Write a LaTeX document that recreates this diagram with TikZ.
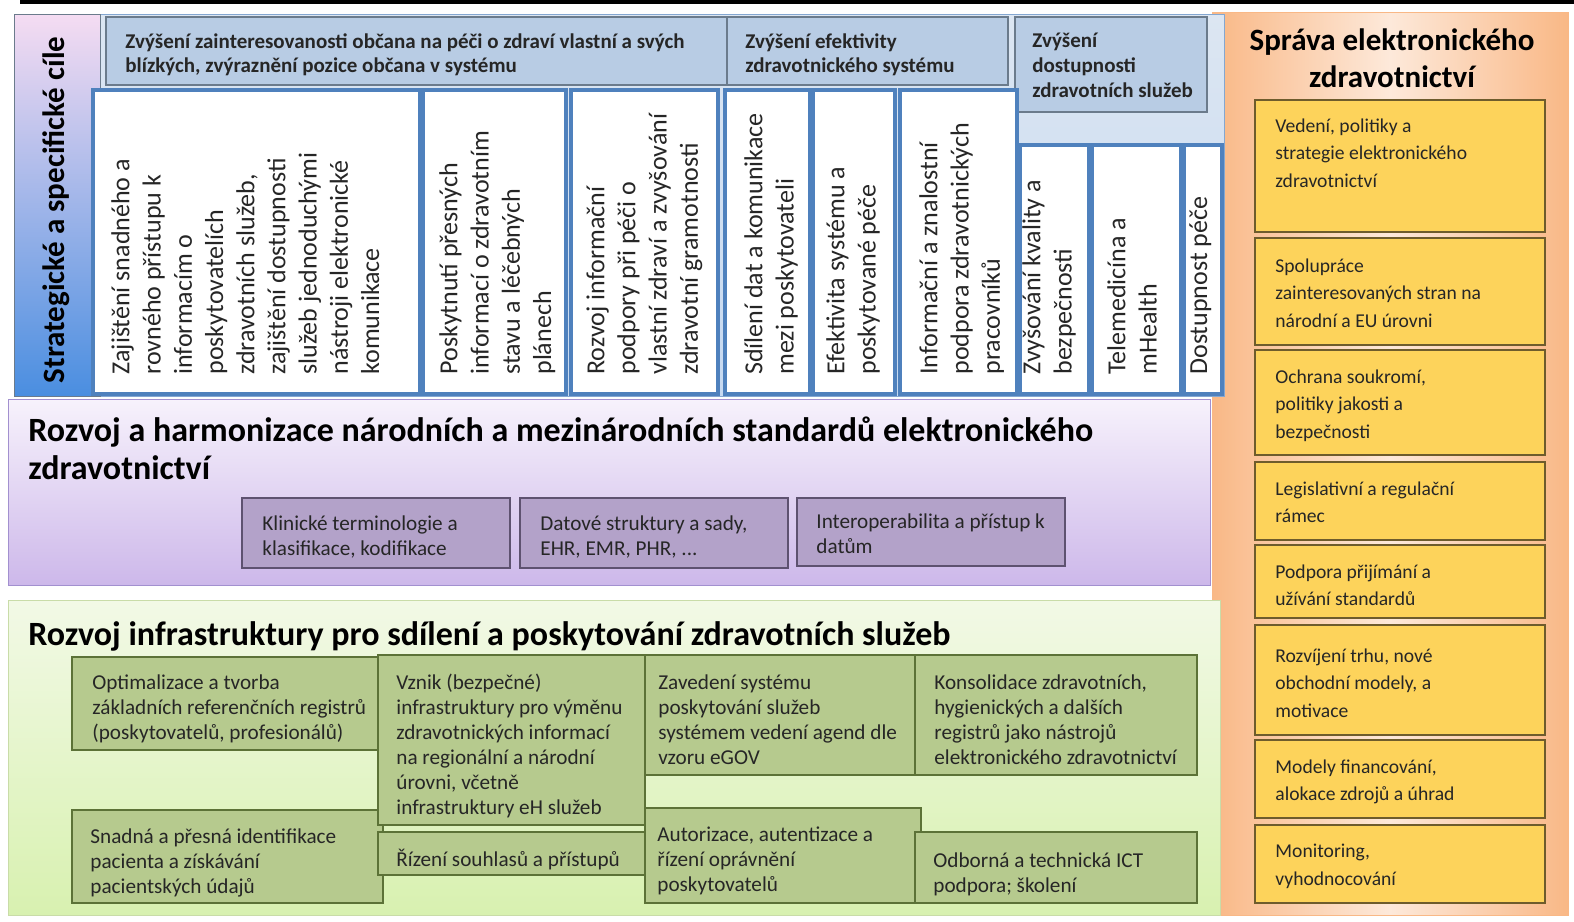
\documentclass[tikz,border=0pt]{standalone}
\usepackage{fontspec}
\setmainfont{Carlito}
\usepackage{tikz}
\definecolor{hdrblue}{HTML}{B8CCE4}
\definecolor{hdrline}{HTML}{6B7B8C}
\definecolor{colline}{HTML}{4F81BD}
\definecolor{bgblue}{HTML}{C6D9F1}
\definecolor{bgblue2}{HTML}{DCE6F2}
\definecolor{lblpink}{HTML}{F5DCF2}
\definecolor{lblblue}{HTML}{4A8EE0}
\definecolor{purtop}{HTML}{F7F2FC}
\definecolor{purbot}{HTML}{CDB8EA}
\definecolor{purline}{HTML}{A290CF}
\definecolor{purbox}{HTML}{B3A2C9}
\definecolor{purboxline}{HTML}{5E5270}
\definecolor{grntop}{HTML}{F2F9E6}
\definecolor{grnbot}{HTML}{D8F1B0}
\definecolor{grnline}{HTML}{C9DCA8}
\definecolor{grnbox}{HTML}{B6CA8E}
\definecolor{grnboxline}{HTML}{5C7237}
\definecolor{orgedge}{HTML}{F9B886}
\definecolor{orgmid}{HTML}{FDE9DA}
\definecolor{yelbox}{HTML}{FDD35B}
\definecolor{yelline}{HTML}{6E5C2C}
\definecolor{txt}{HTML}{262626}
\tikzset{
  hdr/.style = {fill=hdrblue, draw=hdrline, line width=0.8pt},
  col/.style = {fill=white, draw=colline, line width=1.8pt},
  pbox/.style = {fill=purbox, draw=purboxline, line width=0.8pt},
  gbox/.style = {fill=grnbox, draw=grnboxline, line width=0.9pt},
  ybox/.style = {fill=yelbox, draw=yelline, line width=0.9pt},
  hdrtxt/.style = {anchor=north west, align=left, inner sep=0pt, text=txt, font=\bfseries\fontsize{10.5}{12.3}\selectfont},
  coltxt/.style = {anchor=north west, rotate=90, align=left, inner sep=0pt, text=txt, font=\fontsize{13}{15.6}\selectfont},
  boxtxt/.style = {anchor=north west, align=left, inner sep=0pt, text=txt, font=\fontsize{10.6}{12.5}\selectfont},
  ytxt/.style = {boxtxt, font=\fontsize{9.8}{13.8}\selectfont},
  bandtitle/.style = {anchor=north west, align=left, inner sep=0pt, font=\bfseries\fontsize{17}{19}\selectfont},
}
\begin{document}
\begin{tikzpicture}[x=0.5pt, y=-0.5pt]
\useasboundingbox (0,0) rectangle (1574,921);
\fill[black] (20,0) rectangle (1574,4);

\shade[left color=orgedge, right color=orgedge, middle color=orgmid, draw=orgedge] (1212,12) rectangle (1568,915);
\node[anchor=north, align=center, inner sep=0pt, font=\bfseries\fontsize{15.5}{18.5}\selectfont] (sprava) at (1392,28) {Správa elektronického\\zdravotnictví};
\draw[ybox] (1255,100) rectangle (1545,232);
\draw[ybox] (1255,238) rectangle (1545,345);
\draw[ybox] (1255,350) rectangle (1545,455);
\draw[ybox] (1255,462) rectangle (1545,540);
\draw[ybox] (1255,545) rectangle (1545,618);
\draw[ybox] (1255,625) rectangle (1545,735);
\draw[ybox] (1255,740) rectangle (1545,818);
\draw[ybox] (1255,825) rectangle (1545,903);
\node[ytxt] (vedeni) at (1275,118) {Vedení, politiky a\\strategie elektronického\\zdravotnictví};
\node[ytxt] (spoluprace) at (1275,258) {Spolupráce\\zainteresovaných stran na\\národní a EU úrovni};
\node[ytxt] (ochrana) at (1275,369) {Ochrana soukromí,\\politiky jakosti a\\bezpečnosti};
\node[ytxt] (legislativa) at (1275,481) {Legislativní a regulační\\rámec};
\node[ytxt] (podpora) at (1275,564) {Podpora přijímání a\\užívání standardů};
\node[ytxt] (trh) at (1275,648) {Rozvíjení trhu, nové\\obchodní modely, a\\motivace};
\node[ytxt] (financovani) at (1275,759) {Modely financování,\\alokace zdrojů a úhrad};
\node[ytxt] (monitoring) at (1275,844) {Monitoring,\\vyhodnocování};

\shade[top color=bgblue2, bottom color=bgblue, draw=colline!70] (100,14) rectangle (1224,396);
\shade[top color=lblpink, bottom color=lblblue, draw=hdrline] (14,14) rectangle (100,396);
\node[rotate=90, inner sep=0pt, font=\bfseries\fontsize{15.5}{18}\selectfont] (cile) at (56,210) {Strategické a specifické cíle};
\draw[hdr] (106,17) rectangle (727,85);
\draw[hdr] (727,17) rectangle (1008,85);
\draw[hdr] (1015,17) rectangle (1207,112);
\draw[colline, line width=1.8pt] (1017,145) -- (1224,145);
\node[hdrtxt] (zapojeni) at (125,33) {Zvýšení zainteresovanosti občana na péči o zdraví vlastní a svých\\blízkých, zvýraznění pozice občana v systému};
\node[hdrtxt] (efektivita) at (745,33) {Zvýšení efektivity\\zdravotnického systému};
\node[hdrtxt] (dostupnost) at (1032,33) {Zvýšení\\dostupnosti\\zdravotních služeb};

\draw[col] (93,90) rectangle (420,394);
\draw[col] (423,90) rectangle (566,394);
\draw[col] (571,90) rectangle (718,394);
\draw[col] (725,90) rectangle (810,394);
\draw[col] (813,90) rectangle (895,394);
\draw[col] (900,90) rectangle (1017,394);
\draw[col] (1020,145) rectangle (1089,394);
\draw[col] (1092,145) rectangle (1181,394);
\draw[col] (1184,145) rectangle (1222,394);
\node[coltxt] (pristup) at (111,375) {Zajištění snadného a\\rovného  přístupu k\\informacím o\\poskytovatelích\\zdravotních služeb,\\zajištění dostupnosti\\služeb  jednoduchými\\nástroji elektronické\\komunikace};
\node[coltxt] (informace) at (439,375) {Poskytnutí přesných\\informací o zdravotním\\stavu a léčebných\\plánech};
\node[coltxt] (gramotnost) at (586,375) {Rozvoj informační\\podpory při péči o\\vlastní zdraví a zvyšování\\zdravotní gramotnosti};
\node[coltxt] (sdileni) at (744,375) {Sdílení dat a komunikace\\mezi poskytovateli};
\node[coltxt] (pece) at (826,375) {Efektivita systému a\\poskytované péče};
\node[coltxt] (znalosti) at (919,375) {Informační a znalostní\\podpora zdravotnických\\pracovníků};
\node[coltxt] (kvalita) at (1022,375) {Zvyšování kvality a\\bezpečnosti};
\node[coltxt] (telemed) at (1107,375) {Telemedicína a\\mHealth};
\node[coltxt] (dostpece) at (1189,375) {Dostupnost péče};

\shade[top color=purtop, bottom color=purbot, draw=purline] (8,399) rectangle (1210,585);
\node[bandtitle] (standardy) at (28,416) {Rozvoj a harmonizace národních a mezinárodních standardů elektronického\\zdravotnictví};
\draw[pbox] (242,498) rectangle (510,568);
\draw[pbox] (520,498) rectangle (788,568);
\draw[pbox] (797,498) rectangle (1065,566);
\node[boxtxt] (terminologie) at (262,515) {Klinické terminologie a\\klasifikace, kodifikace};
\node[boxtxt] (struktury) at (540,515) {Datové struktury a sady,\\EHR,  EMR, PHR, ...};
\node[boxtxt] (interop) at (816,513) {Interoperabilita a přístup k\\datům};

\shade[top color=grntop, bottom color=grnbot, draw=grnline] (8,600) rectangle (1220,915);
\node[bandtitle] (infra) at (28,621) {Rozvoj infrastruktury pro sdílení a poskytování zdravotních služeb};
\draw[gbox] (72,657) rectangle (383,750);
\draw[gbox] (645,655) rectangle (915,775);
\draw[gbox] (915,655) rectangle (1197,775);
\draw[gbox] (72,810) rectangle (383,903);
\draw[gbox] (645,808) rectangle (921,903);
\draw[gbox] (915,832) rectangle (1197,903);
\draw[gbox] (378,655) rectangle (645,825);
\draw[gbox] (378,832) rectangle (645,875);
\node[boxtxt] (registry) at (92,674) {Optimalizace a tvorba\\základních referenčních registrů\\(poskytovatelů, profesionálů)};
\node[boxtxt] (vymena) at (396,674) {Vznik (bezpečné)\\infrastruktury pro výměnu\\zdravotnických informací\\na regionální a národní\\úrovni, včetně\\infrastruktury eH služeb};
\node[boxtxt] (agendy) at (658,674) {Zavedení systému\\poskytování služeb\\systémem vedení agend dle\\vzoru eGOV};
\node[boxtxt] (konsolidace) at (934,674) {Konsolidace zdravotních,\\hygienických a dalších\\registrů jako nástrojů\\elektronického zdravotnictví};
\node[boxtxt] (identifikace) at (90,828) {Snadná a přesná identifikace\\pacienta a získávání\\pacientských údajů};
\node[boxtxt] (souhlasy) at (396,849) {Řízení souhlasů a přístupů};
\node[boxtxt] (autorizace) at (657,826) {Autorizace, autentizace a\\řízení oprávnění\\poskytovatelů};
\node[boxtxt] (skoleni) at (933,852) {Odborná a technická ICT\\podpora; školení};
\end{tikzpicture}
\end{document}
